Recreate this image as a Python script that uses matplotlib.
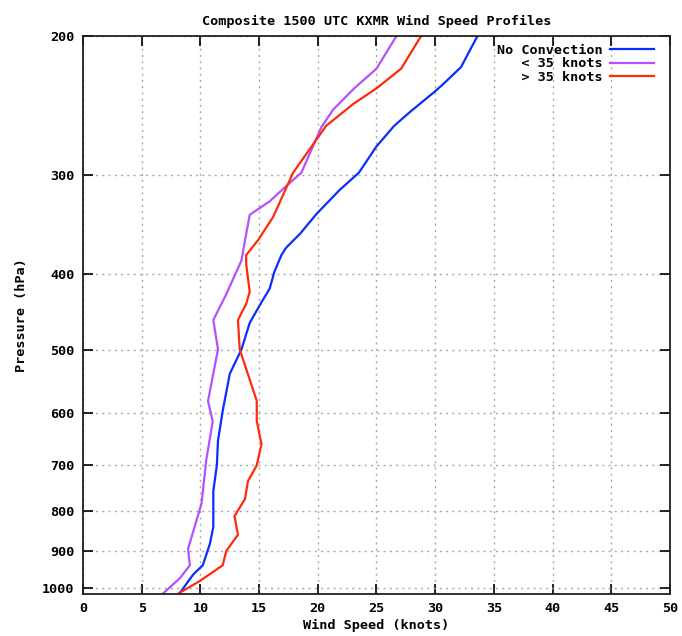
import matplotlib
matplotlib.use("Agg")
import matplotlib.pyplot as plt
from matplotlib.ticker import FixedLocator, NullLocator

# pressure levels (hPa) and wind speed (knots) for each composite
p_none = [200, 219, 230, 235, 250, 260, 276, 298, 313, 336, 356, 371, 379, 398,
          418, 435, 462, 499, 536, 551, 597, 651, 700, 755, 838, 881, 937, 962, 1018]
ws_none = [33.6, 32.2, 30.7, 30.0, 27.8, 26.5, 25.0, 23.5, 21.9, 19.9, 18.5, 17.3, 16.9, 16.3,
           15.9, 15.2, 14.2, 13.5, 12.5, 12.35, 11.9, 11.5, 11.4, 11.1, 11.1, 10.8, 10.2, 9.4, 8.2]

p_lt35 = [200, 220, 233, 248, 261, 298, 310, 324, 337, 363, 385, 425, 458, 499,
          580, 616, 689, 782, 893, 937, 973, 1018]
ws_lt35 = [26.7, 25.0, 23.1, 21.3, 20.3, 18.6, 17.3, 15.9, 14.2, 13.8, 13.5, 12.2, 11.1, 11.5,
           10.65, 11.05, 10.5, 10.1, 8.95, 9.1, 8.25, 6.8]

p_gt35 = [200, 220, 233, 244, 260, 298, 339, 363, 379, 389, 422, 437, 458, 499,
          580, 615, 658, 700, 733, 772, 812, 857, 899, 937, 982, 1018]
ws_gt35 = [28.8, 27.1, 25.0, 23.0, 20.7, 17.9, 16.2, 14.9, 13.9, 13.9, 14.2, 13.9, 13.2, 13.35,
           14.8, 14.8, 15.2, 14.8, 14.05, 13.8, 12.9, 13.2, 12.2, 11.9, 9.9, 8.1]

labels = ["No Convection", "   < 35 knots", "   > 35 knots"]
colors = ["#0a2dff", "#b450ff", "#ff2a0a"]

pressure_ticks = [200, 300, 400, 500, 600, 700, 800, 900, 1000]
speed_ticks = list(range(0, 55, 5))

font = {"family": "DejaVu Sans Mono", "weight": "bold", "size": 9.7}

fig = plt.figure(figsize=(6.82, 6.36), dpi=100)
ax = fig.add_axes([0.1217, 0.0665, 0.8607, 0.8769])

for ws, p, lab, col in zip([ws_none, ws_lt35, ws_gt35], [p_none, p_lt35, p_gt35], labels, colors):
    ax.plot(ws, p, color=col, lw=1.6, label=lab)

ax.set_yscale("log")
ax.set_ylim(1018, 200)
ax.set_xlim(0, 50)
ax.yaxis.set_major_locator(FixedLocator(pressure_ticks))
ax.yaxis.set_minor_locator(NullLocator())
ax.set_yticks(pressure_ticks)
ax.set_yticklabels([str(p) for p in pressure_ticks])
ax.set_xticks(speed_ticks)
ax.set_xticklabels([str(s) for s in speed_ticks])

ax.tick_params(axis="both", which="major", direction="in", length=7, width=1.2,
               top=True, right=True, pad=6)
for lbl in ax.get_xticklabels() + ax.get_yticklabels():
    lbl.set_fontfamily(font["family"])
    lbl.set_fontweight("bold")
    lbl.set_fontsize(font["size"])

ax.grid(True, color="#a8a8a8", linestyle=(0, (1.5, 3)), linewidth=1.0)
for s in ax.spines.values():
    s.set_linewidth(1.3)
    s.set_color("#202020")

ax.set_title("Composite 1500 UTC KXMR Wind Speed Profiles", fontdict=font, pad=8)
ax.set_xlabel("Wind Speed (knots)", fontdict=font, labelpad=3)
ax.set_ylabel("Pressure (hPa)", fontdict=font, labelpad=10)

leg = ax.legend(loc="upper right", bbox_to_anchor=(0.973, 0.986), frameon=False,
                markerfirst=False,
                prop={"family": font["family"], "weight": "bold", "size": font["size"]},
                handlelength=3.3, handletextpad=0.55, labelspacing=0.05,
                borderaxespad=0.0, borderpad=0.0)

plt.savefig("out.png", dpi=100)
plt.close(fig)
